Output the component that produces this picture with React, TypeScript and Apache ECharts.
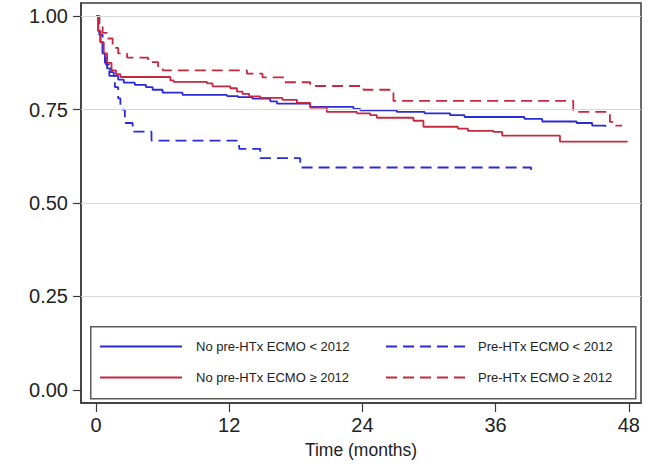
import React, { useEffect, useRef } from "react";
import * as echarts from "echarts";

// ---- Data (months, survival probability) ----
const xTicks = [0, 12, 24, 36, 48];
const yTicks = [0, 0.25, 0.5, 0.75, 1];
const gridValues = [0.25, 0.5, 0.75, 1];

const seriesNames = [
  "No pre-HTx ECMO < 2012",
  "Pre-HTx ECMO < 2012",
  "No pre-HTx ECMO ≥ 2012",
  "Pre-HTx ECMO ≥ 2012",
];

// No pre-HTx ECMO < 2012 (blue solid)
const noEcmoEarlyT = [0, 0.2, 0.4, 0.6, 0.8, 1.0, 1.3, 1.6, 2.0, 2.5, 3.5, 4.5, 5.1, 6.0, 7.8, 11.8, 12.8, 14.1, 15.7, 16.3, 19.3, 23.2, 23.8, 27.1, 29.6, 31.9, 33.2, 38.6, 40.2, 43.3, 44.7, 45.9];
const noEcmoEarlyS = [1.0, 0.96, 0.93, 0.9, 0.875, 0.86, 0.85, 0.84, 0.83, 0.822, 0.816, 0.81, 0.803, 0.795, 0.789, 0.786, 0.783, 0.779, 0.772, 0.766, 0.757, 0.752, 0.748, 0.744, 0.74, 0.735, 0.73, 0.725, 0.718, 0.714, 0.707, 0.704];

// Pre-HTx ECMO < 2012 (blue dashed)
const ecmoEarlyT = [0, 0.3, 0.6, 0.9, 1.2, 1.7, 2.0, 2.2, 2.6, 3.3, 5.0, 12.9, 14.8, 18.4, 39.2];
const ecmoEarlyS = [1.0, 0.95, 0.9, 0.87, 0.84, 0.81, 0.78, 0.75, 0.714, 0.691, 0.667, 0.645, 0.62, 0.595, 0.576];

// No pre-HTx ECMO >= 2012 (red solid)
const noEcmoLateT = [0, 0.2, 0.4, 0.7, 1.0, 1.4, 1.8, 2.2, 6.7, 7.0, 10.0, 10.5, 12.1, 12.7, 13.2, 13.8, 14.8, 16.8, 18.1, 19.3, 20.8, 23.5, 24.7, 25.3, 28.6, 29.5, 32.6, 33.5, 35.8, 36.6, 41.8, 47.9];
const noEcmoLateS = [1.0, 0.96, 0.93, 0.9, 0.875, 0.855, 0.845, 0.837, 0.828, 0.824, 0.82, 0.812, 0.807, 0.798, 0.792, 0.785, 0.781, 0.776, 0.768, 0.755, 0.744, 0.74, 0.735, 0.728, 0.72, 0.704, 0.699, 0.693, 0.69, 0.68, 0.664, 0.664];

// Pre-HTx ECMO >= 2012 (red dashed)
const ecmoLateT = [0, 0.3, 0.6, 1.0, 1.5, 2.0, 2.8, 4.7, 5.6, 6.0, 13.6, 15.0, 16.9, 19.3, 24.1, 26.8, 43.0, 46.3, 46.6, 47.4];
const ecmoLateS = [1.0, 0.98, 0.955, 0.94, 0.915, 0.9, 0.889, 0.877, 0.862, 0.855, 0.846, 0.836, 0.823, 0.813, 0.803, 0.773, 0.744, 0.717, 0.707, 0.707];

const BLUE = "#2a2ad8";
const RED = "#c8283f";
const FONT = "'Liberation Sans', Arial, Helvetica, sans-serif";

const pairs = (t: number[], s: number[]) => t.map((x, i) => [x, s[i]]);

export default function App() {
  const ref = useRef<HTMLDivElement>(null);

  useEffect(() => {
    if (!ref.current) return;
    const chart = echarts.init(ref.current, undefined, { renderer: "svg" });

    const lineSeries = (
      name: string,
      t: number[],
      s: number[],
      color: string,
      dashed: boolean
    ) => ({
      name,
      type: "line",
      step: "end",
      data: pairs(t, s),
      showSymbol: false,
      symbol: "none",
      z: 3,
      lineStyle: { color, width: 1.8, type: dashed ? [11, 6] : "solid" },
      itemStyle: { color },
    });

    const legendCommon = {
      orient: "vertical",
      top: 335,
      itemHeight: 14,
      itemGap: 18,
      z: 10,
      selectedMode: false,
      itemStyle: { opacity: 0, borderWidth: 0 },
    };

    chart.setOption({
      animation: false,
      backgroundColor: "#ffffff",
      textStyle: { fontFamily: FONT },
      grid: {
        left: 81,
        top: 3,
        width: 560,
        height: 401,
        show: true,
        borderColor: "#3a3a3a",
        borderWidth: 1.5,
        backgroundColor: "transparent",
        containLabel: false,
      },
      xAxis: {
        type: "value",
        min: -1.35,
        max: 49.1,
        name: "Time (months)",
        nameLocation: "middle",
        nameGap: 38,
        nameTextStyle: { fontSize: 17.5, color: "#222", fontFamily: FONT },
        axisLine: { show: true, onZero: false, lineStyle: { color: "#3a3a3a", width: 1.5 } },
        axisTick: {
          show: true,
          length: 9,
          customValues: xTicks,
          lineStyle: { color: "#3a3a3a", width: 1.2 },
        },
        axisLabel: {
          customValues: xTicks,
          fontSize: 20,
          color: "#222",
          margin: 12,
          fontFamily: FONT,
        },
        splitLine: { show: false },
      },
      yAxis: {
        type: "value",
        min: -0.035,
        max: 1.035,
        axisLine: { show: true, onZero: false, lineStyle: { color: "#3a3a3a", width: 1.5 } },
        axisTick: {
          show: true,
          length: 8,
          customValues: yTicks,
          lineStyle: { color: "#3a3a3a", width: 1.2 },
        },
        axisLabel: {
          customValues: yTicks,
          fontSize: 20,
          color: "#222",
          margin: 13,
          fontFamily: FONT,
          formatter: (v: number) => v.toFixed(2),
        },
        splitLine: { show: false },
      },
      legend: [
        {
          ...legendCommon,
          data: [seriesNames[0], seriesNames[2]],
          left: 94,
          itemWidth: 82,
          textStyle: {
            fontSize: 13,
            color: "#222",
            fontFamily: FONT,
            padding: [0, 0, 0, 9],
          },
        },
        {
          ...legendCommon,
          data: [seriesNames[1], seriesNames[3]],
          left: 380,
          itemWidth: 85,
          textStyle: {
            fontSize: 13,
            color: "#222",
            fontFamily: FONT,
            padding: [0, 0, 0, 2],
          },
        },
      ],
      graphic: [
        {
          type: "rect",
          left: 90,
          top: 326,
          z: 5,
          shape: { width: 545, height: 72 },
          style: { fill: "#ffffff", stroke: "#5a5a5a", lineWidth: 1.5 },
          silent: true,
        },
      ],
      series: [
        {
          name: "grid",
          type: "line",
          data: [],
          z: 1,
          silent: true,
          markLine: {
            silent: true,
            symbol: "none",
            label: { show: false },
            lineStyle: { color: "#d9d9d9", width: 1, type: "solid" },
            data: gridValues.map((v) => ({ yAxis: v })),
          },
        },
        lineSeries(seriesNames[0], noEcmoEarlyT, noEcmoEarlyS, BLUE, false),
        lineSeries(seriesNames[1], ecmoEarlyT, ecmoEarlyS, BLUE, true),
        lineSeries(seriesNames[2], noEcmoLateT, noEcmoLateS, RED, false),
        lineSeries(seriesNames[3], ecmoLateT, ecmoLateS, RED, true),
      ],
    });

    return () => chart.dispose();
  }, []);

  return (
    <div
      ref={ref}
      style={{ position: "fixed", left: 0, top: 0, width: 651, height: 464 }}
    />
  );
}
